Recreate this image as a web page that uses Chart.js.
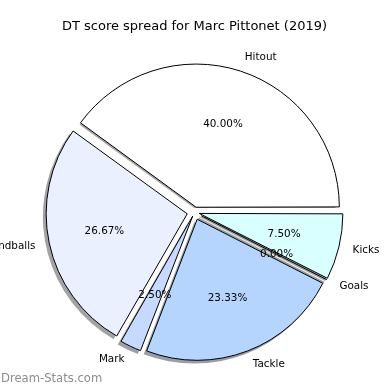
<!DOCTYPE html>
<html>
<head>
<meta charset="utf-8">
<script src="https://cdn.jsdelivr.net/npm/chart.js@4"></script>
<style>
  html, body { margin: 0; padding: 0; background: #fff; }
  canvas { display: block; }
</style>
</head>
<body>
<canvas id="pieChart" width="390" height="390"></canvas>
<script>
// values in matplotlib order (counter-clockwise from 3 o'clock)
var categories = ['Hitout', 'Handballs', 'Mark', 'Tackle', 'Goals', 'Kicks'];
var scores = [40.00, 26.67, 2.50, 23.33, 0.00, 7.50];
var sliceColors = ['#ffffff', '#ebf0ff', '#c6d9ff', '#b5d5ff', '#d0e8ff', '#d9ffff'];

var chartTitle = 'DT score spread for Marc Pittonet (2019)';
var watermark = 'Dream-Stats.com';

// chart.js goes clockwise, so flip the order
var labelsCW = categories.slice().reverse();
var valuesCW = scores.slice().reverse();
var colorsCW = sliceColors.slice().reverse();
var total = valuesCW.reduce(function (a, b) { return a + b; }, 0);

var EXPLODE = 7.5;   // px, how far each wedge is pulled out
var RADIUS = 141;
var SHADOW_DX = -2.8, SHADOW_DY = 2.8;
var FONT = '"DejaVu Sans", sans-serif';

// chart.js moves an arc by offset/4*(1+fix), undo that so every wedge moves EXPLODE px
function sliceOffset(i) {
  var circ = valuesCW[i] / total * 2 * Math.PI;
  var fix = 1 - Math.sin(Math.min(Math.PI, circ));
  return 4 * EXPLODE / (1 + fix);
}

function shadowColor(hex) {
  var r = parseInt(hex.substr(1, 2), 16), g = parseInt(hex.substr(3, 2), 16), b = parseInt(hex.substr(5, 2), 16);
  return 'rgba(' + Math.round(r * 0.3) + ',' + Math.round(g * 0.3) + ',' + Math.round(b * 0.3) + ',0.5)';
}

// exploded centre of a wedge, taken from the arc element itself
function wedgeGeom(el) {
  var p = el.getProps(['x', 'y', 'startAngle', 'endAngle', 'outerRadius', 'circumference'], true);
  var off = (el.options.offset || 0) / 4;
  var mid = (p.startAngle + p.endAngle) / 2;
  var fix = 1 - Math.sin(Math.min(Math.PI, p.circumference || 0));
  var t = off * (1 + fix);
  return {
    cx: p.x + Math.cos(mid) * t,
    cy: p.y + Math.sin(mid) * t,
    r: p.outerRadius, start: p.startAngle, end: p.endAngle, mid: mid, px: p.x
  };
}

var pieExtras = {
  id: 'pieExtras',
  beforeDatasetsDraw: function (chart) {
    var ctx = chart.ctx;
    var arcs = chart.getDatasetMeta(0).data;
    ctx.save();
    arcs.forEach(function (el, i) {
      var g = wedgeGeom(el);
      var x = g.cx + SHADOW_DX, y = g.cy + SHADOW_DY;
      if (valuesCW[i] === 0) {
        ctx.strokeStyle = shadowColor(colorsCW[i]);
        ctx.lineWidth = 2;
        ctx.beginPath();
        ctx.moveTo(x, y);
        ctx.lineTo(x + Math.cos(g.start) * g.r, y + Math.sin(g.start) * g.r);
        ctx.stroke();
        return;
      }
      ctx.fillStyle = shadowColor(colorsCW[i]);
      ctx.beginPath();
      ctx.moveTo(x, y);
      ctx.arc(x, y, g.r + 0.5, g.start, g.end);
      ctx.closePath();
      ctx.fill();
    });
    ctx.restore();
  },
  afterDatasetsDraw: function (chart) {
    var ctx = chart.ctx;
    var arcs = chart.getDatasetMeta(0).data;
    ctx.save();
    arcs.forEach(function (el, i) {
      var g = wedgeGeom(el);
      if (valuesCW[i] === 0) {
        ctx.strokeStyle = '#000';
        ctx.lineWidth = 1;
        ctx.beginPath();
        ctx.moveTo(g.cx, g.cy);
        ctx.lineTo(g.cx + Math.cos(g.start) * g.r, g.cy + Math.sin(g.start) * g.r);
        ctx.stroke();
      }
      // outer label
      var lx = g.cx + Math.cos(g.mid) * g.r * 1.1;
      var ly = g.cy + Math.sin(g.mid) * g.r * 1.1;
      ctx.font = '10.4px ' + FONT;
      ctx.fillStyle = '#000';
      ctx.textBaseline = 'middle';
      ctx.textAlign = lx > g.px ? 'left' : 'right';
      ctx.fillText(labelsCW[i], lx, ly);
      // percentage
      var tx = g.cx + Math.cos(g.mid) * g.r * 0.6;
      var ty = g.cy + Math.sin(g.mid) * g.r * 0.6;
      ctx.textAlign = 'center';
      ctx.fillText((valuesCW[i] / total * 100).toFixed(2) + '%', tx, ty);
    });
    ctx.restore();
  },
  afterDraw: function (chart) {
    var ctx = chart.ctx;
    ctx.save();
    ctx.font = '11.6px ' + FONT;
    ctx.fillStyle = '#8c8c8c';
    ctx.textAlign = 'left';
    ctx.textBaseline = 'middle';
    ctx.fillText(watermark, 1, 379);
    ctx.restore();
  }
};

var ctx = document.getElementById('pieChart');
var pieChart = new Chart(ctx, {
  type: 'pie',
  data: {
    labels: labelsCW,
    datasets: [{
      data: valuesCW,
      backgroundColor: colorsCW,
      borderColor: '#000',
      borderWidth: 1,
      offset: function (c) { return sliceOffset(c.dataIndex); },
      hoverOffset: function (c) { return sliceOffset(c.dataIndex); }
    }]
  },
  options: {
    responsive: false,
    devicePixelRatio: 1,
    animation: false,
    events: [],
    rotation: 90,
    radius: RADIUS,
    layout: { padding: { left: 0, right: 1, top: 0, bottom: 0 } },
    plugins: {
      legend: { display: false },
      tooltip: { enabled: false },
      title: {
        display: true,
        text: chartTitle,
        color: '#000',
        font: { family: FONT, size: 13, weight: 'normal' },
        padding: { top: 19, bottom: 0 }
      }
    }
  },
  plugins: [pieExtras]
});
</script>
</body>
</html>
